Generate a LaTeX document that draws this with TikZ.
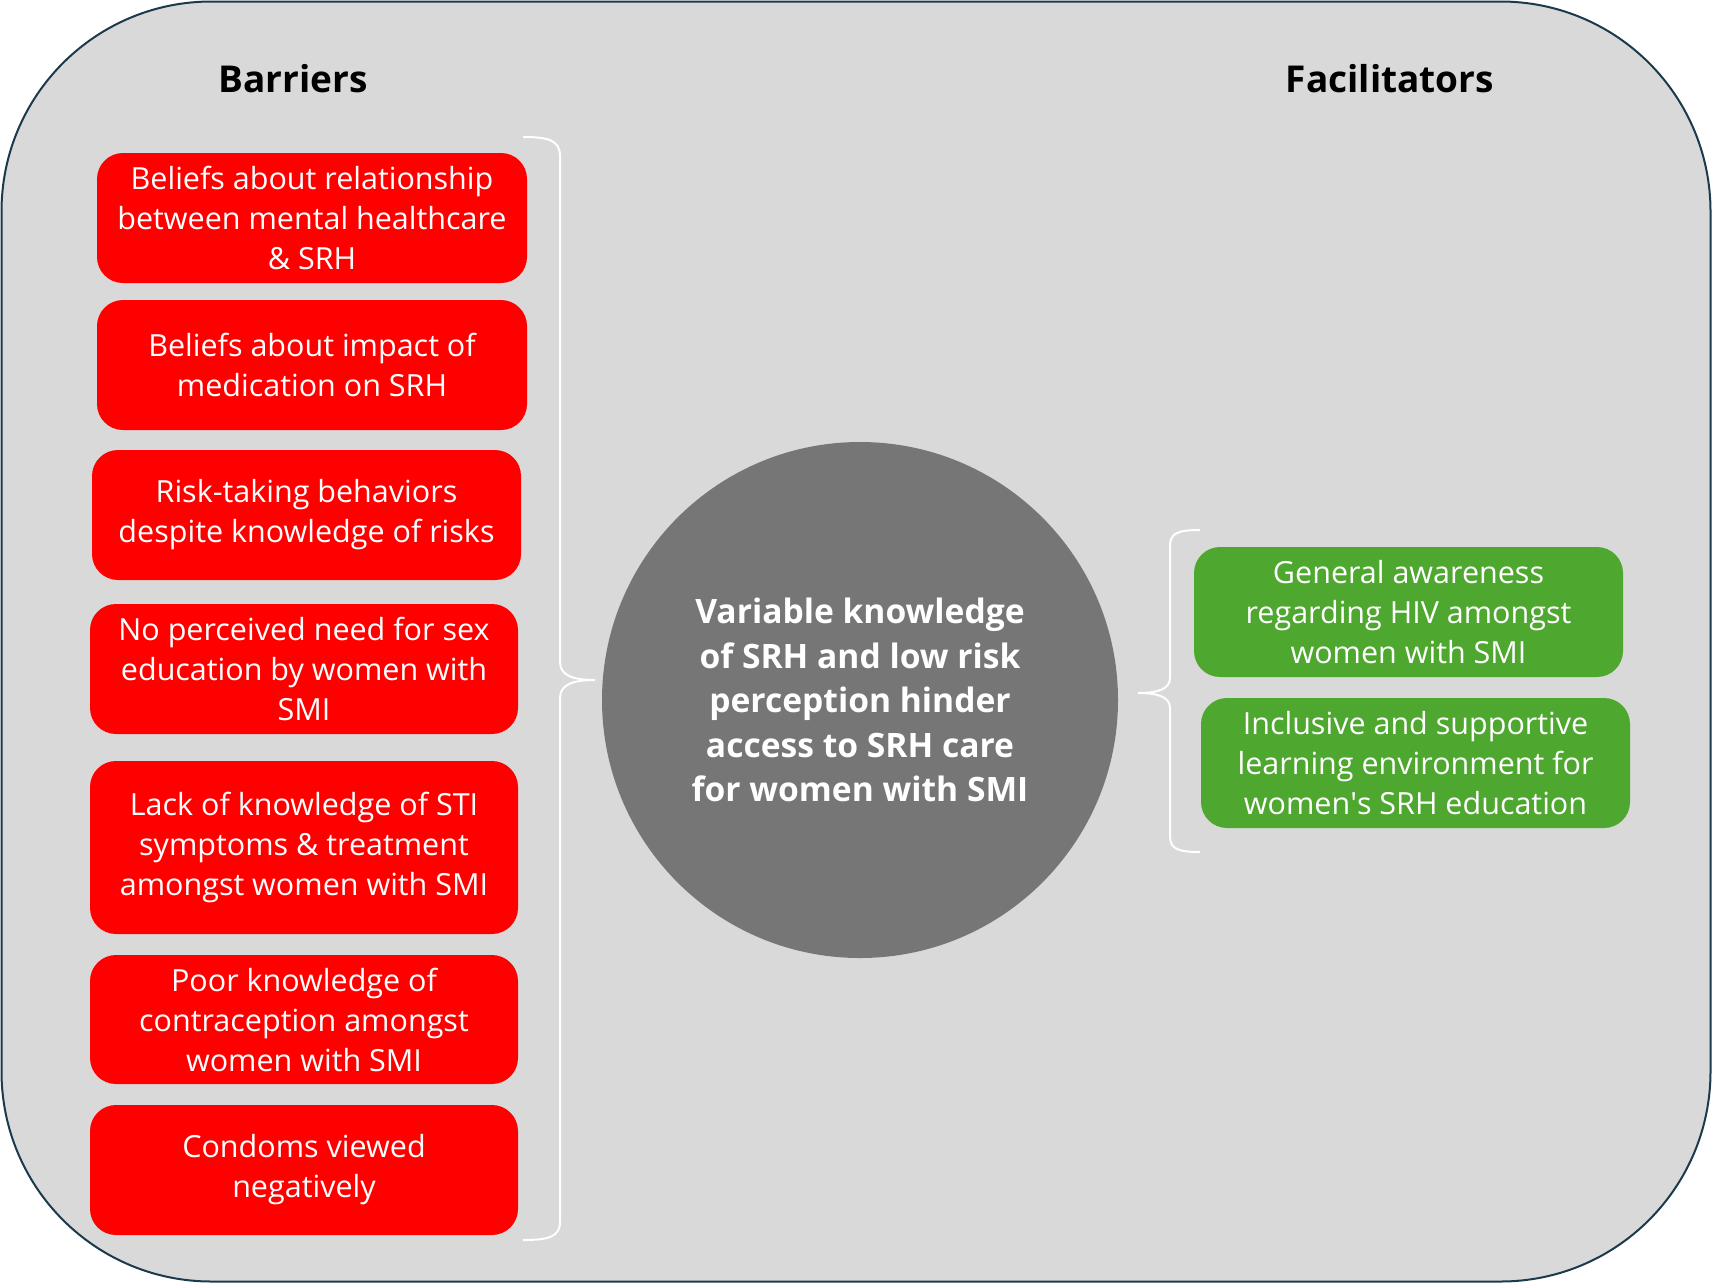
\documentclass[tikz,border=0pt]{standalone}
\usepackage{fontspec}
\setmainfont{Open Sans}
\definecolor{bgfill}{HTML}{D9D9D9}
\definecolor{bordercol}{HTML}{1B3A4B}
\definecolor{redfill}{HTML}{FF0000}
\definecolor{greenfill}{HTML}{4EA72E}
\definecolor{circfill}{HTML}{767676}
\begin{document}
\begin{tikzpicture}[x=1pt,y=-1pt,
  boxbase/.style={rounded corners=26pt, text=white, align=center, inner sep=0pt,
    font=\fontsize{30.5}{40}\selectfont},
  redbox/.style={boxbase, fill=redfill},
  greenbox/.style={boxbase, fill=greenfill},
  titletext/.style={font=\fontsize{37}{42}\selectfont\bfseries, text=black},
  bracepath/.style={draw=white, line width=2pt}]
\useasboundingbox (0,0) rectangle (1712,1283);
\draw[fill=bgfill, draw=bordercol, line width=2pt, rounded corners=210pt] (1.5,1.5) rectangle (1710.5,1281.5);

\node[titletext] (tb) at (293,79) {Barriers};
\node[titletext] (tf) at (1390,79) {Facilitators};

\node[redbox, minimum width=430pt, minimum height=130pt] (r1) at (312,218) {Beliefs about relationship\\between mental healthcare\\\& SRH};
\node[redbox, minimum width=430pt, minimum height=130pt] (r2) at (312,365) {Beliefs about impact of\\medication on SRH};
\node[redbox, minimum width=429pt, minimum height=130pt] (r3) at (306.5,515) {Risk-taking behaviors\\despite knowledge of risks};
\node[redbox, minimum width=428pt, minimum height=130pt] (r4) at (304,669) {No perceived need for sex\\education by women with\\SMI};
\node[redbox, minimum width=428pt, minimum height=173pt] (r5) at (304,847.5) {Lack of knowledge of STI\\symptoms \& treatment\\amongst women with SMI};
\node[redbox, minimum width=428pt, minimum height=129pt] (r6) at (304,1019.5) {Poor knowledge of\\contraception amongst\\women with SMI};
\node[redbox, minimum width=428pt, minimum height=130pt] (r7) at (304,1170) {Condoms viewed\\negatively};

\node[greenbox, minimum width=429pt, minimum height=130pt] (g1) at (1408.5,612) {General awareness\\regarding HIV amongst\\women with SMI};
\node[greenbox, minimum width=429pt, minimum height=130pt] (g2) at (1415.5,763) {Inclusive and supportive\\learning environment for\\women\textquotesingle s SRH education};

\node[circle, fill=circfill, minimum size=516pt, inner sep=0pt, text=white, align=center,
  font=\fontsize{33.6}{44.5}\selectfont\bfseries] (c) at (860,700)
  {Variable knowledge\\of SRH and low risk\\perception hinder\\access to SRH care\\for women with SMI};

% left brace
\coordinate (lbt) at (523,137);
\coordinate (lbm) at (595,680);
\coordinate (lbb) at (523,1240);
\draw[bracepath] (lbt) .. controls (548,137) and (560,140) .. (560,156) -- (560,662)
  .. controls (560,676) and (574,680) .. (lbm)
  .. controls (574,680) and (560,684) .. (560,698) -- (560,1222)
  .. controls (560,1237) and (548,1240) .. (lbb);
% right brace
\coordinate (rbt) at (1200,530);
\coordinate (rbm) at (1138,693);
\coordinate (rbb) at (1200,852);
\draw[bracepath] (rbt) .. controls (1178,530) and (1170,533) .. (1170,546) -- (1170,678)
  .. controls (1170,689) and (1158,693) .. (rbm)
  .. controls (1158,693) and (1170,697) .. (1170,708) -- (1170,836)
  .. controls (1170,849) and (1178,852) .. (rbb);
\end{tikzpicture}
\end{document}
